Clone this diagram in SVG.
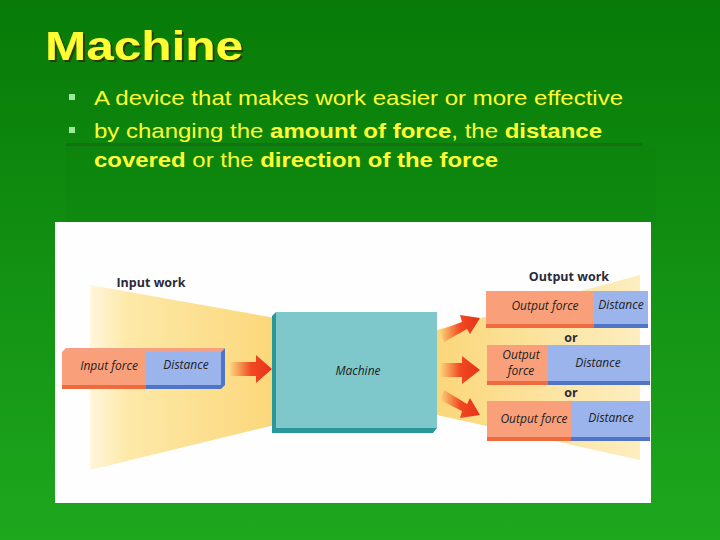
<svg xmlns="http://www.w3.org/2000/svg" width="720" height="540" viewBox="0 0 720 540">
<defs>
<linearGradient id="bg" x1="0" y1="0" x2="0" y2="1"><stop offset="0" stop-color="#077a07"/><stop offset="1" stop-color="#1ea81e"/></linearGradient>
<linearGradient id="coneL" x1="0" y1="0" x2="1" y2="0"><stop offset="0" stop-color="#fff6dc"/><stop offset="0.2" stop-color="#fde9a8"/><stop offset="1" stop-color="#fbd77a"/></linearGradient>
<linearGradient id="coneR" x1="0" y1="0" x2="1" y2="0"><stop offset="0" stop-color="#fbd77a"/><stop offset="1" stop-color="#fdeec0"/></linearGradient>
<linearGradient id="arr" x1="0" y1="0" x2="1" y2="0"><stop offset="0" stop-color="#fbd77a"/><stop offset="0.5" stop-color="#f04a22"/><stop offset="1" stop-color="#e8301a"/></linearGradient>
<filter id="sh" x="-5%" y="-5%" width="115%" height="130%"><feDropShadow dx="2" dy="2" stdDeviation="0.3" flood-color="#2a3a00"/></filter>
</defs>
<style>
.t{font-family:"Liberation Sans",Arial,sans-serif;fill:#ffff33}
.lab{font-family:"Open Sans","Liberation Sans",sans-serif;font-style:italic;font-size:12px;fill:#222;text-anchor:middle}
.hd{font-family:"Open Sans","Liberation Sans",sans-serif;font-weight:bold;font-size:12.5px;fill:#2a2a3a;text-anchor:middle}
.o{fill:#f9a07a}.od{fill:#ef6a3c}.b{fill:#9cb4ec}.bd{fill:#4f74c8}
</style>
<rect width="720" height="540" fill="url(#bg)"/>
<rect x="66" y="145" width="590" height="80" fill="#0e800e" opacity="0.3"/>
<rect x="66" y="143" width="576" height="3" fill="#1a5a1a" opacity="0.5"/>
<text x="45" y="60" class="t" font-size="40" font-weight="bold" textLength="198" lengthAdjust="spacingAndGlyphs" filter="url(#sh)">Machine</text>
<g class="t" font-size="21">
<rect x="69" y="94" width="6" height="6" fill="#9ce89c"/>
<text x="94" y="105" textLength="529" lengthAdjust="spacingAndGlyphs">A device that makes work easier or more effective</text>
<rect x="69" y="127" width="6" height="6" fill="#9ce89c"/>
<text x="94" y="138" textLength="508" lengthAdjust="spacingAndGlyphs">by changing the <tspan font-weight="bold">amount of force</tspan>, the <tspan font-weight="bold">distance</tspan></text>
<text x="94" y="167" textLength="404" lengthAdjust="spacingAndGlyphs"><tspan font-weight="bold">covered</tspan> or the <tspan font-weight="bold">direction of the force</tspan></text>
</g>
<rect x="55" y="222" width="596" height="281" fill="#fefefe"/>
<polygon points="90,285 275,318 275,425 90,470" fill="url(#coneL)"/>
<polygon points="437,330 640,275 640,460 437,415" fill="url(#coneR)"/>
<g id="connectors">
<polygon points="230,362 256,362 256,355 272,369 256,383 256,376 230,376" fill="url(#arr)"/>
<polygon points="440,330 462,322 460,315 480,318 470,334 467,329 444,342" fill="url(#arr)"/>
<polygon points="440,363 462,363 462,356 480,370 462,384 462,377 440,377" fill="url(#arr)"/>
<polygon points="440,400 444,390 467,404 470,398 480,415 460,418 462,411" fill="url(#arr)"/>
</g>
<g id="input">
<polygon points="62,352 66,348 225,348 221,352" fill="#f5a080"/>
<rect x="62" y="352" width="84" height="37" class="o"/><rect x="146" y="352" width="75" height="37" class="b"/>
<rect x="62" y="385" width="84" height="4" class="od"/><rect x="146" y="385" width="75" height="4" class="bd"/>
<polygon points="221,352 225,348 225,385 221,389" fill="#4f74c8"/>
<text x="109" y="370" class="lab">Input force</text><text x="186" y="369" class="lab">Distance</text>
</g>
<text x="151" y="287" class="hd">Input work</text>
<g id="machine">
<polygon points="272,316 276,312 437,312 437,428 433,433 272,433" fill="#2a9898"/>
<rect x="276" y="312" width="161" height="116" fill="#7ec8cc"/>
<text x="358" y="375" class="lab">Machine</text>
</g>
<text x="569" y="281" class="hd">Output work</text>
<g id="out1">
<rect x="486" y="291" width="108" height="37" class="o"/><rect x="594" y="291" width="54" height="37" class="b"/>
<rect x="486" y="324" width="108" height="4" class="od"/><rect x="594" y="324" width="54" height="4" class="bd"/>
<text x="545" y="310" class="lab">Output force</text><text x="621" y="309" class="lab">Distance</text>
</g>
<text x="571" y="342" class="hd">or</text>
<g id="out2">
<rect x="487" y="345" width="61" height="40" class="o"/><rect x="548" y="345" width="102" height="40" class="b"/>
<rect x="487" y="381" width="61" height="4" class="od"/><rect x="548" y="381" width="102" height="4" class="bd"/>
<text x="521" y="359" class="lab" font-size="11.5">Output</text><text x="521" y="375" class="lab" font-size="11.5">force</text><text x="598" y="367" class="lab">Distance</text>
</g>
<text x="571" y="397" class="hd">or</text>
<g id="out3">
<rect x="487" y="401" width="84" height="40" class="o"/><rect x="571" y="401" width="79" height="40" class="b"/>
<rect x="487" y="437" width="84" height="4" class="od"/><rect x="571" y="437" width="79" height="4" class="bd"/>
<text x="534" y="423" class="lab">Output force</text><text x="611" y="422" class="lab">Distance</text>
</g>
</svg>
